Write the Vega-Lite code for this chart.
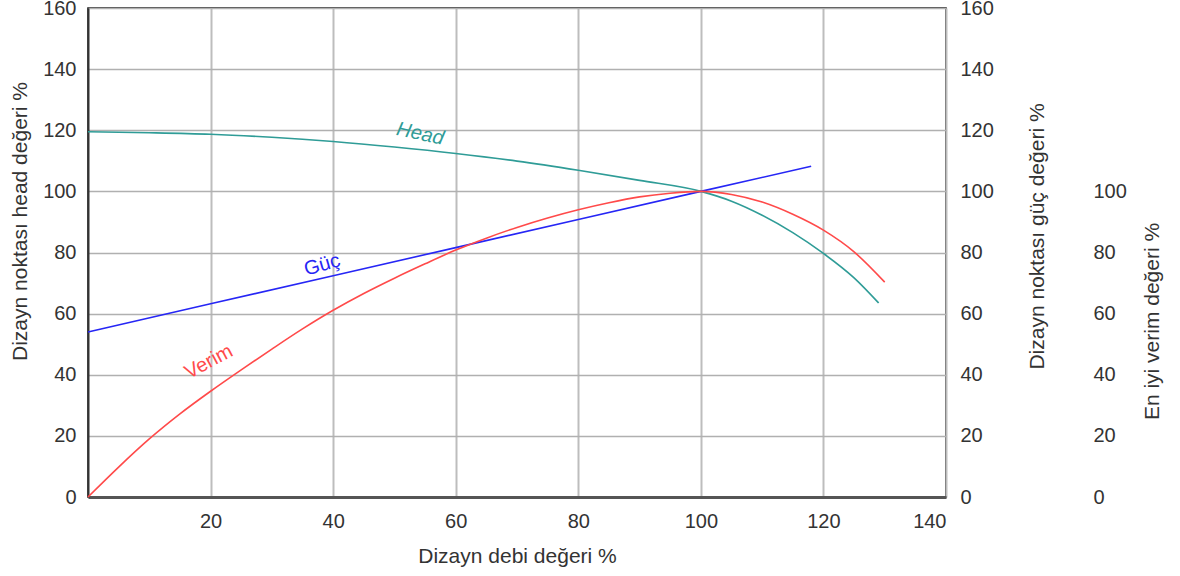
{
  "$schema": "https://vega.github.io/schema/vega-lite/v6.json",
  "width": 858,
  "height": 489,
  "autosize": {"type": "none"},
  "padding": {"left": 88, "top": 8, "right": 234, "bottom": 79},
  "config": {
    "font": "Liberation Sans",
    "view": {"stroke": "#111", "strokeWidth": 1.5},
    "axis": {
      "labelFontSize": 20,
      "titleFontSize": 21,
      "labelColor": "#333",
      "titleColor": "#333",
      "titleFontWeight": "normal",
      "tickSize": 0,
      "labelFont": "Liberation Sans",
      "titleFont": "Liberation Sans"
    }
  },
  "datasets": {
    "curves": [
      {"series": "Head", "q": 0, "v": 119.5},
      {"series": "Head", "q": 10, "v": 119.2},
      {"series": "Head", "q": 20, "v": 118.7},
      {"series": "Head", "q": 30, "v": 117.7},
      {"series": "Head", "q": 40, "v": 116.3},
      {"series": "Head", "q": 50, "v": 114.5},
      {"series": "Head", "q": 60, "v": 112.4},
      {"series": "Head", "q": 70, "v": 109.9},
      {"series": "Head", "q": 80, "v": 106.9},
      {"series": "Head", "q": 90, "v": 103.6},
      {"series": "Head", "q": 100, "v": 100},
      {"series": "Head", "q": 105, "v": 96.8},
      {"series": "Head", "q": 110, "v": 92.2},
      {"series": "Head", "q": 115, "v": 86.5},
      {"series": "Head", "q": 120, "v": 79.7},
      {"series": "Head", "q": 125, "v": 71.7},
      {"series": "Head", "q": 129, "v": 63.5},
      {"series": "Güç", "q": 0, "v": 54},
      {"series": "Güç", "q": 20, "v": 63.2},
      {"series": "Güç", "q": 40, "v": 72.4},
      {"series": "Güç", "q": 60, "v": 81.6},
      {"series": "Güç", "q": 80, "v": 90.8},
      {"series": "Güç", "q": 100, "v": 100},
      {"series": "Güç", "q": 118, "v": 108.2},
      {"series": "Verim", "q": 0, "v": 0},
      {"series": "Verim", "q": 5, "v": 9.8},
      {"series": "Verim", "q": 10, "v": 19},
      {"series": "Verim", "q": 15, "v": 27.2},
      {"series": "Verim", "q": 20, "v": 34.6},
      {"series": "Verim", "q": 25, "v": 41.6},
      {"series": "Verim", "q": 30, "v": 48.4},
      {"series": "Verim", "q": 35, "v": 55},
      {"series": "Verim", "q": 40, "v": 61.1},
      {"series": "Verim", "q": 45, "v": 66.6},
      {"series": "Verim", "q": 50, "v": 71.6},
      {"series": "Verim", "q": 55, "v": 76.3},
      {"series": "Verim", "q": 60, "v": 80.8},
      {"series": "Verim", "q": 65, "v": 84.7},
      {"series": "Verim", "q": 70, "v": 88.2},
      {"series": "Verim", "q": 75, "v": 91.3},
      {"series": "Verim", "q": 80, "v": 94},
      {"series": "Verim", "q": 85, "v": 96.3},
      {"series": "Verim", "q": 90, "v": 98.2},
      {"series": "Verim", "q": 95, "v": 99.4},
      {"series": "Verim", "q": 100, "v": 100},
      {"series": "Verim", "q": 105, "v": 99},
      {"series": "Verim", "q": 110, "v": 96.5},
      {"series": "Verim", "q": 115, "v": 92.5},
      {"series": "Verim", "q": 120, "v": 87.3},
      {"series": "Verim", "q": 125, "v": 80.2},
      {"series": "Verim", "q": 130, "v": 70.3}
    ],
    "labels": [
      {"series": "Head", "q": 54.2, "v": 118.8, "label": "Head"},
      {"series": "Güç", "q": 38.2, "v": 75.9, "label": "Güç"},
      {"series": "Verim", "q": 19.7, "v": 44.2, "label": "Verim"}
    ]
  },
  "encoding": {
    "x": {
      "field": "q",
      "type": "quantitative",
      "scale": {"domain": [0, 140], "nice": false, "zero": false},
      "axis": {
        "values": [20, 40, 60, 80, 100, 120, 140],
        "grid": true,
        "gridColor": "#bdbdbd",
        "gridWidth": 2,
        "domainColor": "#555",
        "domainWidth": 3,
        "labelPadding": 14,
        "title": "Dizayn debi değeri %",
        "titlePadding": 14
      }
    }
  },
  "layer": [
    {
      "encoding": {
        "y": {
          "field": "v",
          "type": "quantitative",
          "scale": {"domain": [0, 160], "nice": false},
          "axis": {
            "orient": "left",
            "values": [0, 20, 40, 60, 80, 100, 120, 140, 160],
            "grid": true,
            "gridColor": "#b0b0b0",
            "gridWidth": 1.5,
            "domainColor": "#333",
            "domainWidth": 2,
            "labelPadding": 12,
            "title": "Dizayn noktası head değeri %",
            "titleAngle": 270,
            "titleX": -68,
            "titleY": 213,
            "titleAlign": "center",
            "titleBaseline": "middle"
          }
        }
      },
      "layer": [
        {
          "data": {"name": "curves"},
          "transform": [{"filter": "datum.series === 'Head'"}],
          "mark": {"type": "line", "color": "#2f9c97", "strokeWidth": 1.6, "interpolate": "monotone"}
        },
        {
          "data": {"name": "labels"},
          "transform": [{"filter": "datum.series === 'Head'"}],
          "mark": {"type": "text", "color": "#2f9c97", "fontStyle": "italic", "fontSize": 20, "angle": 12, "align": "center", "baseline": "middle"},
          "encoding": {"text": {"field": "label"}}
        }
      ]
    },
    {
      "encoding": {
        "y": {
          "field": "v",
          "type": "quantitative",
          "scale": {"domain": [0, 160], "nice": false},
          "axis": {
            "orient": "right",
            "values": [0, 20, 40, 60, 80, 100, 120, 140, 160],
            "grid": false,
            "domain": false,
            "labelPadding": 14,
            "title": "Dizayn noktası güç değeri %",
            "titleAngle": 270,
            "titleX": 91,
            "titleY": 228,
            "titleAlign": "center",
            "titleBaseline": "middle"
          }
        }
      },
      "layer": [
        {
          "data": {"name": "curves"},
          "transform": [{"filter": "datum.series === 'Güç'"}],
          "mark": {"type": "line", "color": "#2626f5", "strokeWidth": 1.6}
        },
        {
          "data": {"name": "labels"},
          "transform": [{"filter": "datum.series === 'Güç'"}],
          "mark": {"type": "text", "color": "#2626f5", "fontSize": 20, "angle": -16, "align": "center", "baseline": "middle"},
          "encoding": {"text": {"field": "label"}}
        }
      ]
    },
    {
      "encoding": {
        "y": {
          "field": "v",
          "type": "quantitative",
          "scale": {"domain": [0, 160], "nice": false},
          "axis": {
            "orient": "right",
            "offset": 140,
            "values": [0, 20, 40, 60, 80, 100],
            "grid": false,
            "domain": false,
            "labelPadding": 7,
            "title": "En iyi verim değeri %",
            "titleAngle": 270,
            "titleX": 66,
            "titleY": 313,
            "titleAlign": "center",
            "titleBaseline": "middle"
          }
        }
      },
      "layer": [
        {
          "data": {"name": "curves"},
          "transform": [{"filter": "datum.series === 'Verim'"}],
          "mark": {"type": "line", "color": "#ff4a4a", "strokeWidth": 1.6, "interpolate": "monotone"}
        },
        {
          "data": {"name": "labels"},
          "transform": [{"filter": "datum.series === 'Verim'"}],
          "mark": {"type": "text", "color": "#ff4a4a", "fontSize": 20, "angle": -28, "align": "center", "baseline": "middle"},
          "encoding": {"text": {"field": "label"}}
        }
      ]
    }
  ],
  "resolve": {"scale": {"y": "independent"}}
}
